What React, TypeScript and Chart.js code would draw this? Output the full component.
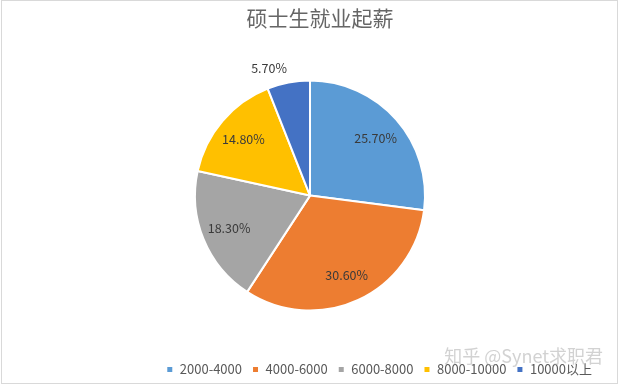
import React, { useEffect, useRef } from 'react';
import { Chart, registerables } from 'chart.js';

Chart.register(...registerables);

const categories = ['2000-4000', '4000-6000', '6000-8000', '8000-10000', '10000以上'];
const shares = [25.7, 30.6, 18.3, 14.8, 5.7];
const colors = ['#5B9BD5', '#ED7D31', '#A5A5A5', '#FFC000', '#4472C4'];
const titleText = '硕士生就业起薪';
const watermarkText = '知乎 @Synet求职君';

const CJK = '"Noto Sans CJK SC", "Noto Sans", sans-serif';

const framePlugin = {
  id: 'frame',
  beforeDraw(chart: any) {
    const { ctx, width, height } = chart;
    ctx.save();
    ctx.fillStyle = '#ffffff';
    ctx.fillRect(0, 0, width, height);
    ctx.strokeStyle = '#d9d9d9';
    ctx.lineWidth = 1;
    ctx.strokeRect(1.5, 0.5, width - 4, height - 2);
    ctx.restore();
  },
};

// nudge title and legend boxes to sit where the reference puts them
const boxShiftPlugin = {
  id: 'boxShift',
  afterLayout(chart: any) {
    const t = chart.titleBlock;
    if (t) {
      t.left += 10;
      t.right += 10;
    }
    const l = chart.legend;
    if (l) {
      l.left -= 18;
      l.right -= 18;
      l.top += 4;
      l.bottom += 4;
      if (l.legendHitBoxes) {
        l.legendHitBoxes.forEach((b: any) => {
          b.left -= 18;
          b.top += 4;
        });
      }
    }
  },
};

const labelPlugin = {
  id: 'sliceLabels',
  afterDatasetsDraw(chart: any) {
    const ctx = chart.ctx;
    const meta = chart.getDatasetMeta(0);
    ctx.save();
    ctx.font = '12.5px ' + CJK;
    ctx.fillStyle = '#3a3a3a';
    meta.data.forEach((arc: any, i: number) => {
      const p = arc.getProps(['x', 'y', 'startAngle', 'endAngle', 'outerRadius'], true);
      const mid = (p.startAngle + p.endAngle) / 2;
      const span = p.endAngle - p.startAngle;
      const text = shares[i].toFixed(2) + '%';
      const cos = Math.cos(mid);
      const sin = Math.sin(mid);
      if (span < 0.5) {
        const r = p.outerRadius + 8;
        ctx.textAlign = cos < 0 ? 'right' : 'left';
        ctx.textBaseline = sin < 0 ? 'bottom' : 'top';
        ctx.fillText(text, p.x + cos * r, p.y + sin * r);
      } else {
        const r = p.outerRadius * 0.76;
        ctx.textAlign = 'center';
        ctx.textBaseline = 'middle';
        ctx.fillText(text, p.x + cos * r, p.y + sin * r);
      }
    });
    ctx.restore();
  },
};

const watermarkPlugin = {
  id: 'watermark',
  afterDraw(chart: any) {
    const ctx = chart.ctx;
    ctx.save();
    ctx.font = '18px ' + CJK;
    ctx.fillStyle = 'rgba(165,165,165,0.5)';
    ctx.textAlign = 'right';
    ctx.textBaseline = 'middle';
    ctx.fillText(watermarkText, chart.width - 17, 356);
    ctx.restore();
  },
};

export default function App() {
  const ref = useRef<HTMLCanvasElement | null>(null);

  useEffect(() => {
    if (!ref.current) return;
    const chart = new Chart(ref.current, {
      type: 'pie',
      data: {
        labels: categories,
        datasets: [
          {
            data: shares,
            backgroundColor: colors,
            borderColor: '#ffffff',
            borderWidth: 2,
            radius: 115,
          },
        ],
      },
      options: {
        responsive: false,
        animation: false,
        layout: { padding: { top: 0, bottom: 3, left: 0, right: 0 } },
        plugins: {
          title: {
            display: true,
            text: titleText,
            color: '#666666',
            font: { family: CJK, size: 21, weight: 'normal' },
            padding: { top: 5, bottom: 12 },
          },
          legend: {
            position: 'bottom',
            align: 'end',
            labels: {
              boxWidth: 7,
              boxHeight: 7,
              padding: 10,
              color: '#595959',
              font: { family: CJK, size: 13 },
            },
          },
          tooltip: { enabled: false },
        },
      },
      plugins: [framePlugin, boxShiftPlugin, labelPlugin, watermarkPlugin],
    });
    return () => chart.destroy();
  }, []);

  return (
    <div style={{ position: 'absolute', left: 0, top: 0, width: 620, height: 385 }}>
      <canvas ref={ref} width={620} height={385} style={{ display: 'block', width: 620, height: 385 }} />
    </div>
  );
}
